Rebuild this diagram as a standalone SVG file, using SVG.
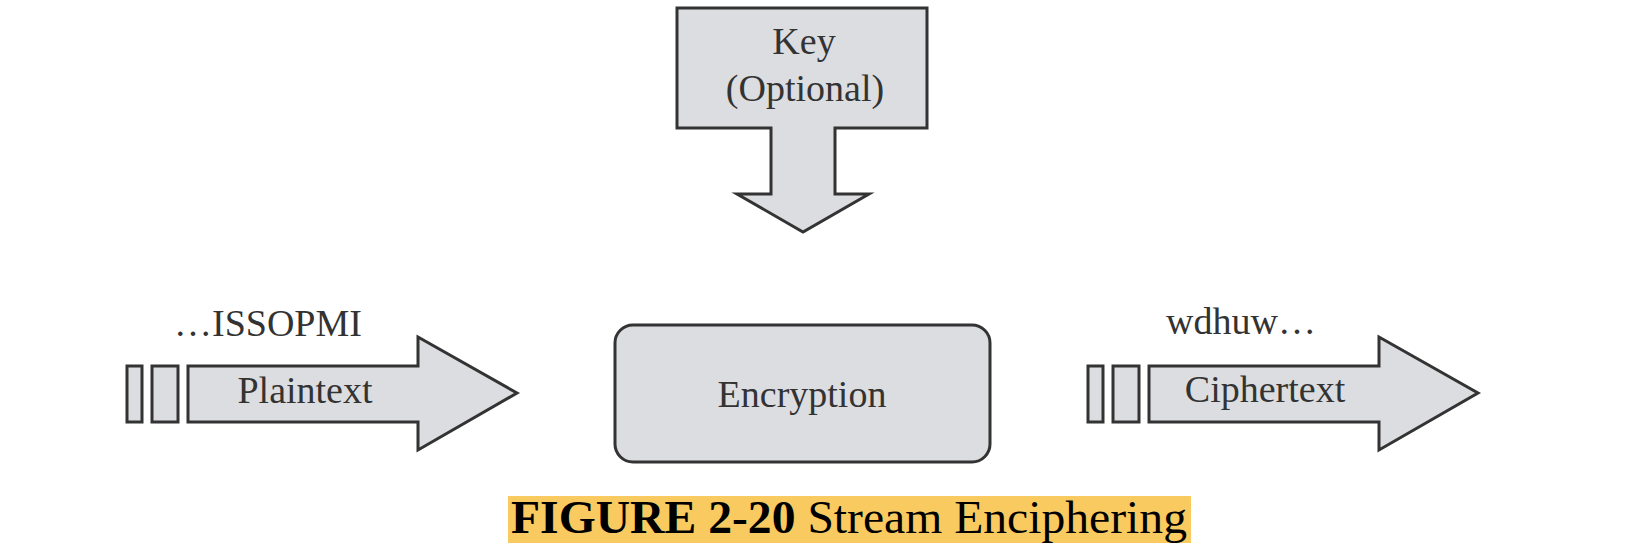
<svg xmlns="http://www.w3.org/2000/svg" width="1626" height="560" viewBox="0 0 1626 560">
<style>
.shape{fill:#dcdde0;stroke:#333;stroke-width:3;stroke-linejoin:miter}
.lbl{font-family:"Liberation Serif","Times New Roman",serif;font-size:38px;fill:#333}
.cap{font-family:"Liberation Serif","Times New Roman",serif;font-size:47px;fill:#000}
</style>
<rect width="1626" height="560" fill="#fff"/>
<g id="key">
<polygon class="shape" points="677,8 927,8 927,128 835,128 835,194 869,194 803,232 737,194 771,194 771,128 677,128"/>
<text class="lbl" x="804" y="54" text-anchor="middle">Key</text>
<text class="lbl" x="805" y="101" text-anchor="middle">(Optional)</text>
</g>
<g id="plaintext">
<rect class="shape" x="127" y="366" width="15" height="56"/>
<rect class="shape" x="152" y="366" width="26" height="56"/>
<polygon class="shape" points="188,366 418,366 418,337 517,393 418,450 418,422 188,422"/>
<text class="lbl" x="174" y="336">…ISSOPMI</text>
<text class="lbl" x="305" y="403" text-anchor="middle">Plaintext</text>
</g>
<g id="encryption">
<rect class="shape" x="615" y="325" width="375" height="137" rx="18"/>
<text class="lbl" x="802" y="407" text-anchor="middle">Encryption</text>
</g>
<g id="ciphertext">
<rect class="shape" x="1088" y="366" width="15" height="56"/>
<rect class="shape" x="1113" y="366" width="26" height="56"/>
<polygon class="shape" points="1149,366 1379,366 1379,337 1478,393 1379,450 1379,422 1149,422"/>
<text class="lbl" x="1166" y="334">wdhuw…</text>
<text class="lbl" x="1265" y="402" text-anchor="middle">Ciphertext</text>
</g>
<g id="connectors"></g>
<g id="caption">
<rect x="508" y="496" width="683" height="47" fill="#f8ca60"/>
<text class="cap" x="511" y="533" textLength="676" lengthAdjust="spacingAndGlyphs"><tspan font-weight="bold">FIGURE 2-20</tspan> Stream Enciphering</text>
</g>
</svg>
